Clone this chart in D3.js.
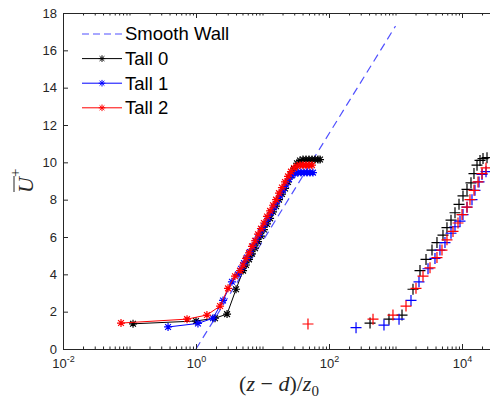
<!DOCTYPE html>
<html>
<head>
<meta charset="utf-8">
<script src="https://cdn.jsdelivr.net/npm/d3@7"></script>
<style>
    body { margin: 0; background: #ffffff; }
    text { font-family: "Liberation Sans", Arial, sans-serif; }
</style>
</head>
<body>
<svg id="chart" width="490" height="398"></svg>
<script>
// ---- data: (z - d)/z0 against U+ ----
const smoothWallX = [1, 1000];
const smoothWallU = [0, 17.3];

// "Tall" runs, asterisk markers joined by lines
const tall0X = [0.113, 1.0, 1.93, 2.93, 4.0, 5.1, 5.65, 6.27, 6.95, 7.71, 8.55, 9.48, 10.5, 11.7, 13.0, 14.4, 16.0, 17.7, 19.6, 21.8, 24.2, 26.8, 29.8, 33.0, 36.6, 40.6, 45.1, 50.0, 55.5, 61.5, 68.3, 73.3];
const tall0U = [1.35, 1.5, 1.65, 1.87, 3.2, 4.2, 4.5, 4.8, 5.1, 5.4, 5.75, 6.05, 6.4, 6.7, 7.0, 7.35, 7.65, 8.0, 8.3, 8.6, 8.95, 9.3, 9.65, 9.95, 10.1, 10.15, 10.15, 10.15, 10.15, 10.15, 10.15, 10.15];

const tall1X = [0.38, 1.07, 1.80, 2.55, 3.47, 4.28, 4.75, 5.27, 5.85, 6.49, 7.19, 7.98, 8.86, 9.83, 10.9, 12.1, 13.4, 14.9, 16.5, 18.3, 20.3, 22.6, 25.0, 27.8, 30.8, 34.2, 37.9, 42.1, 46.7, 51.8, 57.4];
const tall1U = [1.18, 1.37, 1.65, 2.6, 3.6, 4.0, 4.3, 4.6, 4.9, 5.2, 5.5, 5.8, 6.1, 6.4, 6.7, 7.0, 7.3, 7.6, 7.9, 8.2, 8.5, 8.8, 9.1, 9.3, 9.4, 9.45, 9.45, 9.45, 9.45, 9.45, 9.45];

const tall2X = [0.0745, 0.733, 1.46, 2.30, 3.03, 3.86, 4.59, 5.1, 5.65, 6.27, 6.95, 7.71, 8.55, 9.48, 10.5, 11.7, 13.0, 14.4, 16.0, 17.7, 19.6, 21.8, 24.2, 26.8, 29.8, 33.0, 36.6, 40.6, 45.1, 50.0, 55.5];
const tall2U = [1.39, 1.6, 1.82, 2.3, 3.25, 3.9, 4.2, 4.5, 4.85, 5.15, 5.5, 5.8, 6.15, 6.45, 6.75, 7.1, 7.4, 7.7, 8.0, 8.35, 8.65, 8.95, 9.25, 9.5, 9.7, 9.8, 9.85, 9.85, 9.85, 9.85, 9.85];

// second set, plus markers only (no legend entry)
const plus0X = [414, 798, 1253, 1833, 2335, 2877, 3538, 4204, 5176, 5943, 6834, 7846, 9016, 10350, 11890, 13650, 15140, 16820, 18660, 20700, 23770];
const plus0U = [1.39, 1.6, 1.82, 3.2, 4.2, 4.8, 5.3, 5.7, 6.1, 6.5, 6.9, 7.3, 7.75, 8.2, 8.55, 8.9, 9.4, 9.85, 10.1, 10.2, 10.25];

const plus1X = [255, 671, 1130, 1710, 2256, 3082, 3924, 4663, 5546, 6834, 7846, 9333, 10350, 11890, 14130, 15670, 18030, 20000, 22960];
const plus1U = [1.14, 1.28, 1.6, 2.6, 3.6, 4.3, 4.85, 5.3, 5.7, 6.2, 6.55, 6.85, 7.2, 7.6, 8.0, 8.5, 8.95, 9.35, 9.5];

const plus2X = [48.3, 459, 916, 1439, 2033, 2592, 3302, 4204, 5000, 5943, 7322, 8710, 10000, 11890, 13180, 15140, 17400, 20000, 22960];
const plus2U = [1.34, 1.6, 1.82, 2.3, 3.25, 3.9, 4.35, 4.9, 5.3, 5.85, 6.3, 6.75, 7.2, 7.6, 8.0, 8.5, 8.95, 9.4, 9.7];

const xMajorTicks = [1e-2, 1e0, 1e2, 1e4];
const yTicks = [0, 2, 4, 6, 8, 10, 12, 14, 16, 18];
const legendNames = ["Smooth Wall", "Tall 0", "Tall 1", "Tall 2"];
const seriesColors = ["#0000ff", "#000000", "#0000ff", "#ff0000"];

// ---- layout ----
const plotLeft = 63, plotTop = 13, plotBottom = 349;
const decadeWidth = 66.5;
const axisColor = "#262626";
const wallColor = "#5050ff";

const svg = d3.select("#chart");

const x = d3.scaleLog()
    .domain([1e-2, Math.pow(10, 4.5)])
    .range([plotLeft, plotLeft + 6.5 * decadeWidth]);
const y = d3.scaleLinear()
    .domain([0, 18])
    .range([plotBottom, plotTop]);

// minor ticks of the log axis: 2..9 in every decade, plus the unlabelled odd decades
const xMinorTicks = [];
for (let d = -2; d <= 4; d++) {
    for (let m = 2; m <= 9; m++) {
        const v = m * Math.pow(10, d);
        if (v <= x.domain()[1]) xMinorTicks.push(v);
    }
}
[1e-1, 1e1, 1e3].forEach(v => xMinorTicks.push(v));

const toPoints = (xs, us) => xs.map((v, i) => [v, us[i]]);

const starPath = r => {
    const a = r * 0.72;
    return `M${-r},0H${r}M0,${-r}V${r}M${-a},${-a}L${a},${a}M${-a},${a}L${a},${-a}`;
};
const plusPath = r => `M${-r},0H${r}M0,${-r}V${r}`;

const line = d3.line()
    .x(d => x(d[0]))
    .y(d => y(d[1]));

// smooth wall log law
svg.append("path")
    .datum(toPoints(smoothWallX, smoothWallU))
    .attr("d", line)
    .attr("fill", "none")
    .attr("stroke", wallColor)
    .attr("stroke-width", 1.2)
    .attr("stroke-dasharray", "8,5");

const tallSeries = [
    { pts: toPoints(tall0X, tall0U), color: seriesColors[1] },
    { pts: toPoints(tall1X, tall1U), color: seriesColors[2] },
    { pts: toPoints(tall2X, tall2U), color: seriesColors[3] }
];

tallSeries.forEach(s => {
    svg.append("path")
        .datum(s.pts)
        .attr("d", line)
        .attr("fill", "none")
        .attr("stroke", s.color)
        .attr("stroke-width", 1);

    svg.append("g")
        .selectAll("path")
        .data(s.pts)
        .join("path")
        .attr("transform", d => `translate(${x(d[0])},${y(d[1])})`)
        .attr("d", starPath(4))
        .attr("stroke", s.color)
        .attr("stroke-width", 1.2)
        .attr("fill", "none");
});

const plusSeries = [
    { pts: toPoints(plus0X, plus0U), color: seriesColors[1] },
    { pts: toPoints(plus1X, plus1U), color: seriesColors[2] },
    { pts: toPoints(plus2X, plus2U), color: seriesColors[3] }
];

plusSeries.forEach(s => {
    svg.append("g")
        .selectAll("path")
        .data(s.pts)
        .join("path")
        .attr("transform", d => `translate(${x(d[0])},${y(d[1])})`)
        .attr("d", plusPath(5.5))
        .attr("stroke", s.color)
        .attr("stroke-width", 1.2)
        .attr("fill", "none");
});

// ---- axes ----
function styleAxis(g) {
    g.select(".domain").attr("stroke", axisColor);
    g.selectAll(".tick line").attr("stroke", axisColor);
    g.selectAll(".tick text")
        .attr("fill", axisColor)
        .style("font-size", "13px");
}

const xAxis = svg.append("g")
    .attr("transform", `translate(0,${plotBottom})`)
    .call(d3.axisBottom(x).tickValues(xMajorTicks).tickSize(-5).tickSizeOuter(0).tickPadding(10).tickFormat(""))
    .call(styleAxis);

xAxis.selectAll(".tick text").each(function (d) {
    const t = d3.select(this);
    t.append("tspan").text("10");
    t.append("tspan")
        .attr("dy", -6)
        .style("font-size", "9px")
        .text(Math.round(Math.log10(d)));
});

svg.append("g")
    .attr("transform", `translate(0,${plotBottom})`)
    .call(d3.axisBottom(x).tickValues(xMinorTicks).tickSize(-2.5).tickSizeOuter(0).tickFormat(""))
    .call(styleAxis);

svg.append("g")
    .attr("transform", `translate(0,${plotTop})`)
    .call(d3.axisTop(x).tickValues(xMajorTicks).tickSize(-5).tickSizeOuter(0).tickFormat(""))
    .call(styleAxis);

svg.append("g")
    .attr("transform", `translate(0,${plotTop})`)
    .call(d3.axisTop(x).tickValues(xMinorTicks).tickSize(-2.5).tickSizeOuter(0).tickFormat(""))
    .call(styleAxis);

svg.append("g")
    .attr("transform", `translate(${plotLeft},0)`)
    .call(d3.axisLeft(y).tickValues(yTicks).tickSize(-5).tickSizeOuter(0).tickPadding(6))
    .call(styleAxis);

// x label: (z - d)/z0
const xLabel = svg.append("text")
    .attr("x", 279)
    .attr("y", 391)
    .attr("text-anchor", "middle")
    .attr("fill", axisColor)
    .style("font-family", "'Liberation Serif', 'DejaVu Serif', serif")
    .style("font-size", "22px");
xLabel.append("tspan").text("(");
xLabel.append("tspan").style("font-style", "italic").text("z");
xLabel.append("tspan").text(" \u2212 ");
xLabel.append("tspan").style("font-style", "italic").text("d");
xLabel.append("tspan").text(")/");
xLabel.append("tspan").style("font-style", "italic").text("z");
xLabel.append("tspan").attr("dy", 5).style("font-size", "15px").text("0");

// y label: U-bar with superscript +
const yLabel = svg.append("g")
    .attr("transform", "translate(33,193) rotate(-90)");
yLabel.append("text")
    .attr("x", 0)
    .attr("y", 0)
    .attr("fill", axisColor)
    .style("font-family", "'Liberation Serif', 'DejaVu Serif', serif")
    .style("font-style", "italic")
    .style("font-size", "22px")
    .text("U");
yLabel.append("line")
    .attr("x1", 1).attr("x2", 17)
    .attr("y1", -19).attr("y2", -19)
    .attr("stroke", axisColor)
    .attr("stroke-width", 1);
yLabel.append("text")
    .attr("x", 16)
    .attr("y", -13)
    .attr("fill", axisColor)
    .style("font-family", "'Liberation Serif', 'DejaVu Serif', serif")
    .style("font-size", "15px")
    .text("+");

// ---- legend ----
const legend = svg.append("g");
const legendRows = legendNames.map((name, i) => ({ name, color: seriesColors[i], i }));

legendRows.forEach(r => {
    const ly = 34 + r.i * 24.6;
    const g = legend.append("g").attr("transform", `translate(0,${ly})`);
    if (r.i === 0) {
        g.append("line")
            .attr("x1", 82).attr("x2", 122)
            .attr("stroke", wallColor)
            .attr("stroke-width", 1.2)
            .attr("stroke-dasharray", "7,4");
    } else {
        g.append("line")
            .attr("x1", 82).attr("x2", 122)
            .attr("stroke", r.color)
            .attr("stroke-width", 1);
        g.append("path")
            .attr("transform", "translate(102,0)")
            .attr("d", starPath(3.3))
            .attr("stroke", r.color)
            .attr("fill", "none");
    }
    g.append("text")
        .attr("x", 125)
        .attr("dy", "0.35em")
        .attr("fill", "#000000")
        .style("font-size", "18.5px")
        .text(r.name);
});
</script>
</body>
</html>
